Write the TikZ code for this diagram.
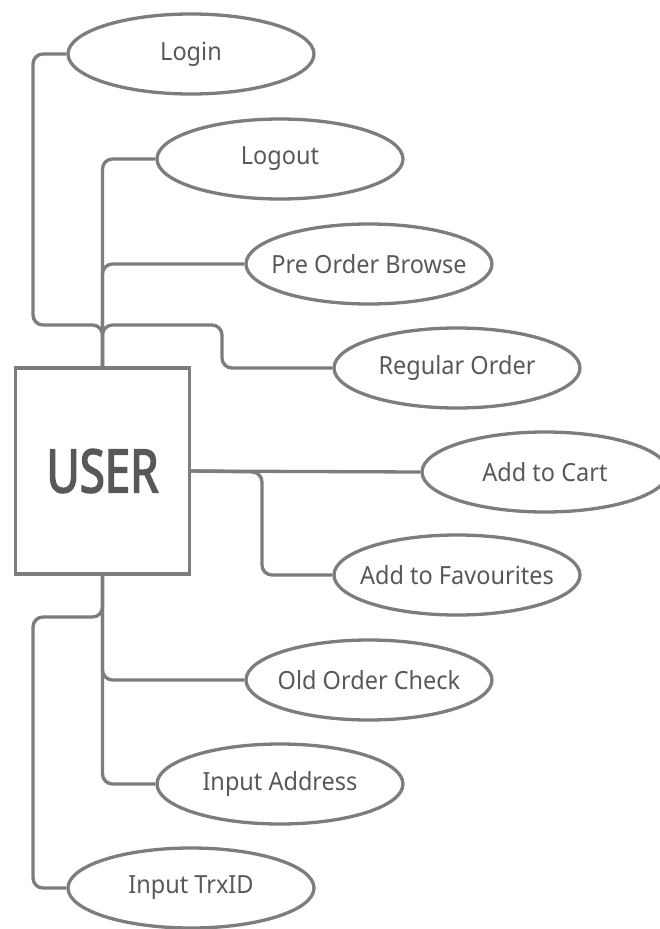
\documentclass[tikz,border=0pt]{standalone}
\usepackage{fontspec}
\setmainfont{Noto Sans}[FakeStretch=0.94]
\newfontfamily\userfont{Noto Sans}[FakeStretch=0.76,FakeBold=2.5]
\usetikzlibrary{shapes.geometric,positioning,calc}
\definecolor{linegray}{RGB}{125,125,125}
\definecolor{textgray}{RGB}{88,88,88}
\newcommand{\uclabel}[1]{\raisebox{-2pt}{\makebox[0pt]{#1}}}
\tikzstyle{usecase}=[ellipse, draw=linegray, line width=3.3pt, minimum width=246pt, minimum height=80pt, inner sep=0pt, text=textgray, font=\fontsize{25}{30}\selectfont]
\tikzstyle{actor}=[rectangle, draw=linegray, line width=3.3pt, minimum width=174pt, minimum height=206pt, inner sep=0pt, text=textgray, font=\userfont\fontsize{60}{66}\selectfont]
\tikzset{link/.style={draw=linegray, line width=3.3pt, rounded corners=10pt}}
\tikzset{y=-1pt}
\tikzset{x=1pt}

\begin{document}
\begin{tikzpicture}
  \useasboundingbox (0,0) rectangle (659,929);
  \draw (102.5,471) node[actor] (USER) {USER};

  %% Use cases above
  \draw (191,54) node[usecase] (Login) {\uclabel{Login}};
  \draw (280,159) node[usecase] (Logout) {\uclabel{Logout}};
  \draw (369,264) node[usecase] (PreOrder) {\uclabel{Pre Order Browse}};
  \draw (457,368) node[usecase] (Regular) {\uclabel{Regular Order}};

  %% Use cases to the right
  \draw (545,472) node[usecase] (Cart) {\uclabel{Add to Cart}};
  \draw (457,575) node[usecase] (Favourites) {\uclabel{Add to Favourites}};

  %% Use cases below
  \draw (369,680) node[usecase] (OldOrder) {\uclabel{Old Order Check}};
  \draw (280,784) node[usecase] (Address) {\uclabel{Input Address}};
  \draw (191,888) node[usecase] (TrxID) {\uclabel{Input TrxID}};

  %% Bends
  \coordinate (loginbend) at (33,325);
  \coordinate (regularbend) at (222,325);
  \coordinate (favbend) at (262,472);
  \coordinate (trxbend) at (33,617);

  %% Links
  \draw[link] (USER.north) |- (loginbend) |- (Login.west);
  \draw[link] (USER.north) |- (Logout.west);
  \draw[link] (USER.north) |- (PreOrder.west);
  \draw[link] (USER.north) |- (regularbend) |- (Regular.west);
  \draw[link] (USER.east) -- (Cart.west);
  \draw[link] (USER.east) -- (favbend) |- (Favourites.west);
  \draw[link] (USER.south) |- (trxbend) |- (TrxID.west);
  \draw[link] (USER.south) |- (OldOrder.west);
  \draw[link] (USER.south) |- (Address.west);
\end{tikzpicture}
\end{document}
